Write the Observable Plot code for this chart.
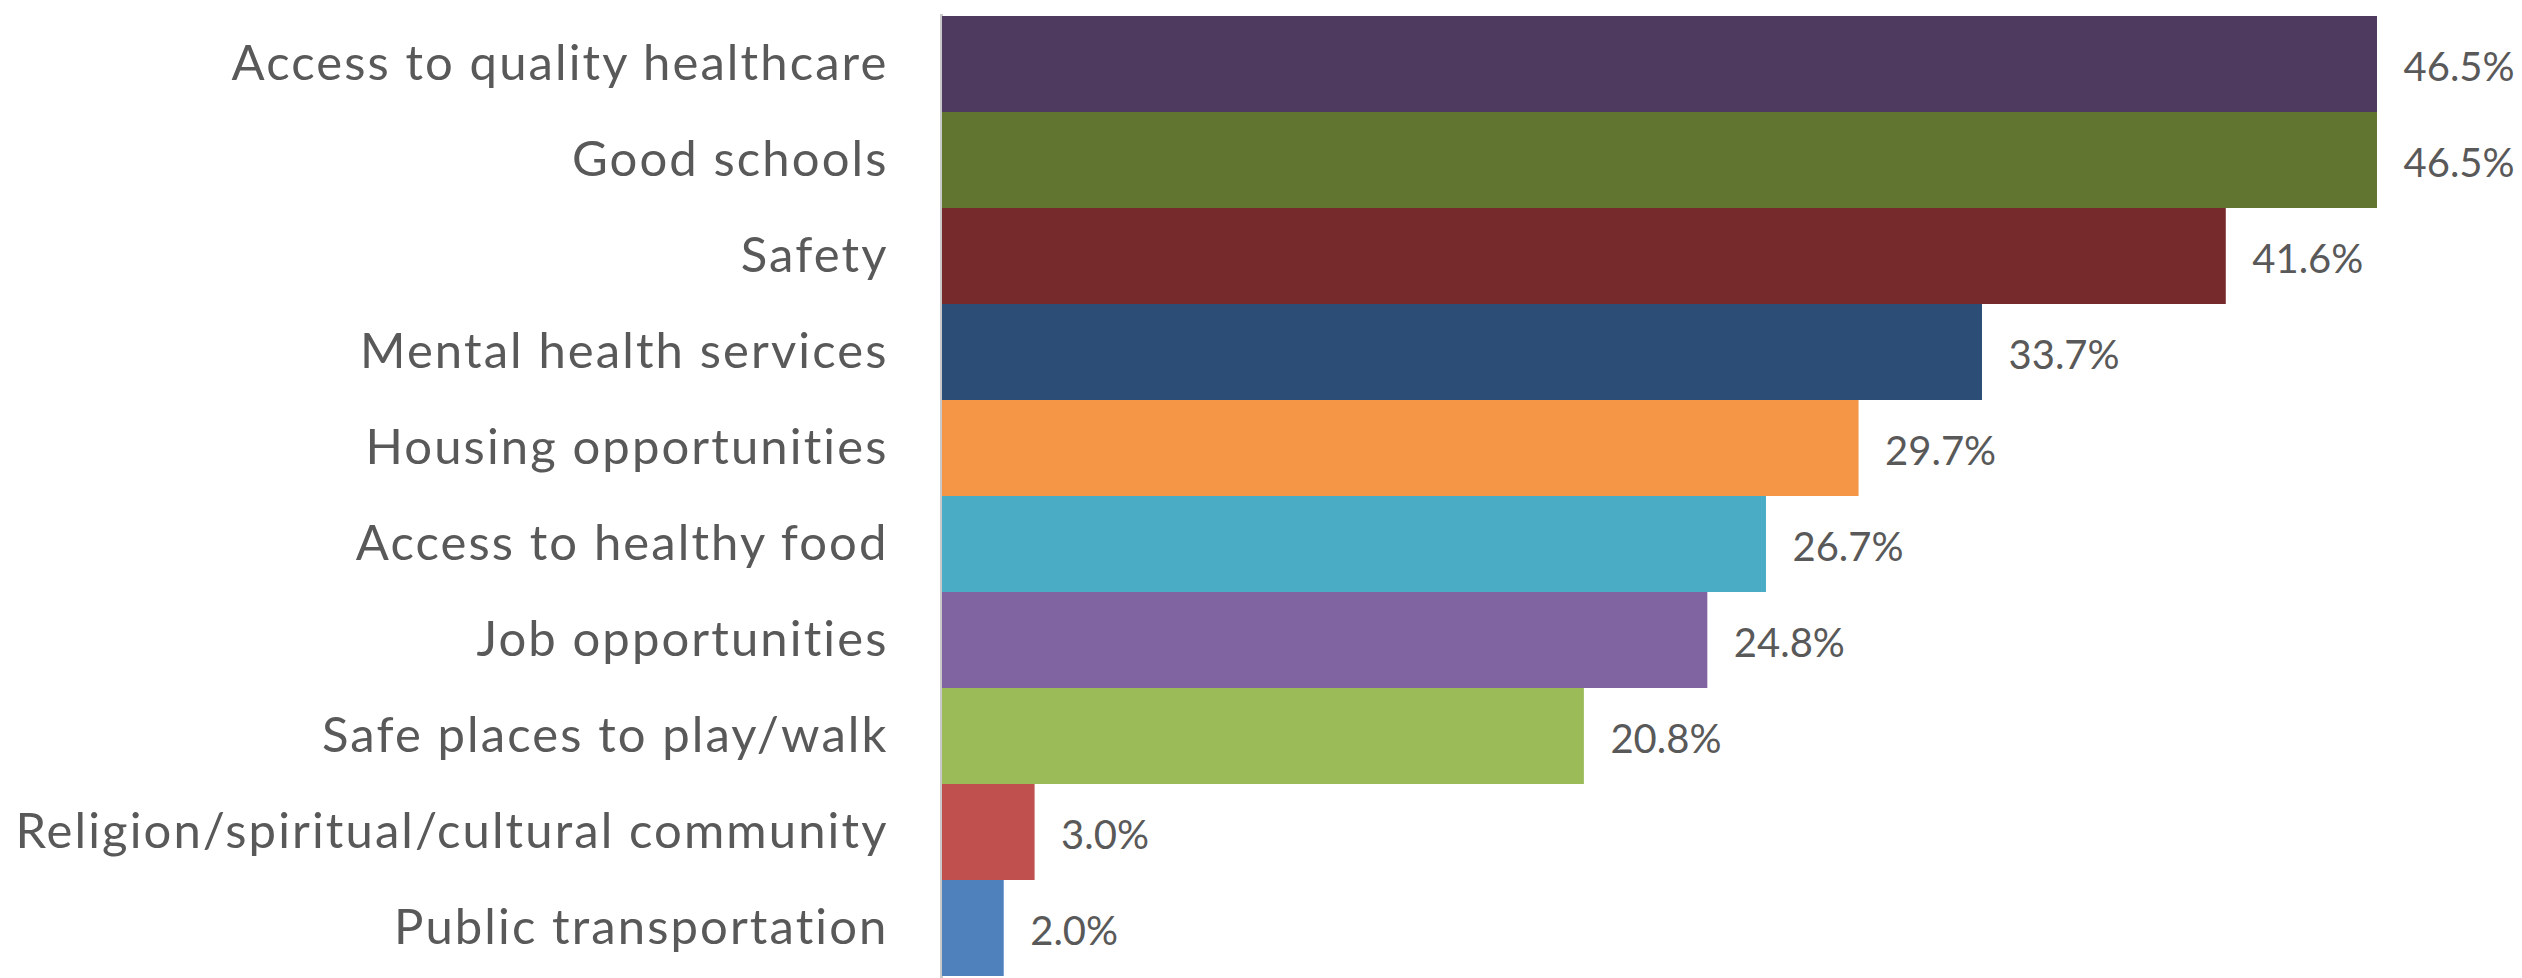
<!DOCTYPE html>
<html>
<head>
<meta charset="utf-8">
<script src="https://cdn.jsdelivr.net/npm/d3@7"></script>
<script src="https://cdn.jsdelivr.net/npm/@observablehq/plot@0.6"></script>
<style>
  html, body { margin: 0; padding: 0; background: #ffffff; }
  #chart svg { display: block; }
  #chart g[aria-label="y-axis tick label"] text { letter-spacing: 2.1px; }
</style>
</head>
<body>
<div id="chart"></div>
<script>
const categories = [
  "Access to quality healthcare",
  "Good schools",
  "Safety",
  "Mental health services",
  "Housing opportunities",
  "Access to healthy food",
  "Job opportunities",
  "Safe places to play/walk",
  "Religion/spiritual/cultural community",
  "Public transportation"
];
const values = [46.5, 46.5, 41.6, 33.7, 29.7, 26.7, 24.8, 20.8, 3.0, 2.0];
const colors = ["#4e3a5f", "#617430", "#772a2b", "#2c4d75", "#f59646", "#4bacc6", "#8064a2", "#9bbb59", "#c0504d", "#4f81bd"];

const data = categories.map((c, i) => ({category: c, value: values[i], color: colors[i]}));

const chart = Plot.plot({
  width: 2522,
  height: 978,
  marginLeft: 942,
  marginRight: 37,
  marginTop: 14,
  marginBottom: 0,
  style: {fontFamily: "Lato, 'Open Sans', sans-serif", color: "#595959", background: "#ffffff"},
  x: {domain: [0, 50], axis: null},
  y: {domain: categories, padding: 0, label: null},
  marks: [
    Plot.ruleX([0], {stroke: "#c9c9c9", strokeWidth: 3, dx: -1}),
    Plot.barX(data, {x: "value", y: "category", fill: "color"}),
    Plot.text(data, {
      x: "value", y: "category",
      text: d => d.value.toFixed(1) + "%",
      textAnchor: "start", dx: 26, dy: 4,
      fontSize: 40, fill: "#595959"
    }),
    Plot.axisY({tickSize: 0, tickPadding: 54, fontSize: 49, fill: "#595959", label: null})
  ]
});
document.getElementById("chart").appendChild(chart);
</script>
</body>
</html>
